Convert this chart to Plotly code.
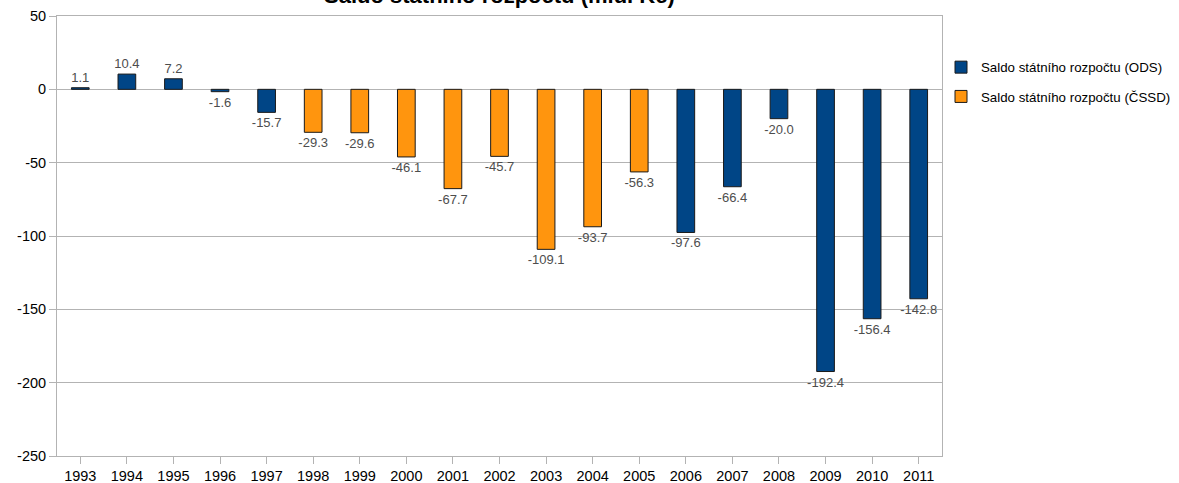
import plotly.graph_objects as go

years = [str(y) for y in range(1993, 2012)]
ods_values = [1.1, 10.4, 7.2, -1.6, -15.7, None, None, None, None, None, None, None, None,
              -97.6, -66.4, -20.0, -192.4, -156.4, -142.8]
cssd_values = [None, None, None, None, None, -29.3, -29.6, -46.1, -67.7, -45.7, -109.1, -93.7, -56.3,
               None, None, None, None, None, None]
series_names = ["Saldo státního rozpočtu (ODS)", "Saldo státního rozpočtu (ČSSD)"]
colors = ["#004586", "#ff950e"]
y_ticks = [50, 0, -50, -100, -150, -200, -250]

W, H = 1179, 483
L, R, T, B = 57, 942, 16, 456
FONT = "Liberation Sans, Arial, sans-serif"

fig = go.Figure()
for name, vals, col, grp in [(series_names[0], ods_values, colors[0], "a"),
                             (series_names[1], cssd_values, colors[1], "b")]:
    lab_font = dict(family=FONT, size=13, color="#4d4d4d")
    fig.add_trace(go.Bar(
        x=years, y=vals, name=name, legendgroup=grp,
        marker=dict(color=col, line=dict(color="#1a1a1a", width=1)),
        width=0.38,
        text=[None if v is None else f"{v:.1f}" for v in vals],
        textposition="outside", cliponaxis=False, constraintext="none",
        textfont=lab_font, outsidetextfont=lab_font,
    ))

fig.update_layout(
    width=W, height=H,
    margin=dict(l=L, r=W - R, t=T, b=H - B, pad=0, autoexpand=False),
    paper_bgcolor="white", plot_bgcolor="white",
    barmode="overlay",
    font=dict(family=FONT, size=14.5, color="#000"),
    showlegend=True,
    legend=dict(x=(941 - L) / (R - L), xanchor="left", y=1 - (52 - T) / (B - T), yanchor="top",
                traceorder="grouped", tracegroupgap=9, itemwidth=30,
                font=dict(family=FONT, size=13.3, color="#000"), bgcolor="rgba(0,0,0,0)"),
)
fig.add_annotation(text="<b>Saldo státního rozpočtu (mld. Kč)</b>", xref="paper", yref="paper",
                   x=0.5, y=1 + (T - 10) / (B - T), xanchor="center", yanchor="bottom",
                   showarrow=False, font=dict(family=FONT, size=22, color="#000"))
fig.update_xaxes(type="category", showgrid=False, showline=True, linecolor="#b3b3b3", linewidth=1,
                 mirror=True, ticks="outside", ticklen=7, tickcolor="#b3b3b3", automargin=False,
                 tickfont=dict(family=FONT, size=14.5, color="#000"), zeroline=False)
fig.update_yaxes(range=[-250, 50], tickvals=y_ticks, ticktext=[str(v) for v in y_ticks],
                 showgrid=True, gridcolor="#b3b3b3", gridwidth=1,
                 showline=True, linecolor="#b3b3b3", linewidth=1, mirror=True, automargin=False,
                 ticks="outside", ticklen=7, tickcolor="#b3b3b3",
                 tickfont=dict(family=FONT, size=14.5, color="#000"), zeroline=False)

fig.write_html("out.html", config={"displayModeBar": False},
               post_script="document.body.style.margin='0';document.body.style.overflow='hidden';")
